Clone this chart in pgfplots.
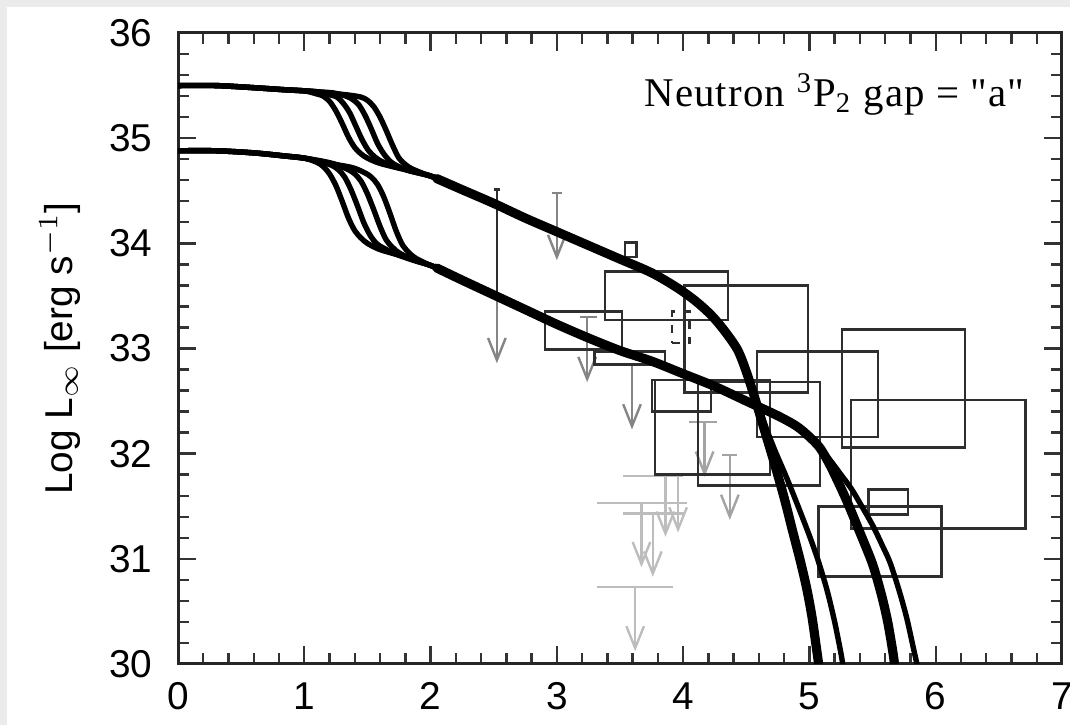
\documentclass[border=0pt]{standalone}
\usepackage{pgfplots}
\pgfplotsset{compat=1.18}
\usetikzlibrary{arrows.meta}
\usepackage{fontspec}
\setmainfont{Liberation Sans}
\newfontfamily\annfont{Liberation Serif}[LetterSpace=3]

\definecolor{framegray}{HTML}{EBEBEB}
\definecolor{boxline}{HTML}{2E2E2E}
\definecolor{limdark}{HTML}{858585}
\definecolor{limmid}{HTML}{A3A3A3}
\definecolor{limlight}{HTML}{BDBDBD}

% observational error box: xmin, xmax, ymin, ymax
\newcommand{\databox}[4]{\addplot[boxline, line width=0.65pt, line cap=rect] coordinates {(#1,#3) (#2,#3) (#2,#4) (#1,#4) (#1,#3)};}
% upper limit arrow: colour, x, from y, to y
\newcommand{\limit}[4]{\addplot[#1, line width=0.6pt, -{Straight Barb[length=5.5pt,width=4.4pt]}] coordinates {(#2,#3) (#2,#4)};}
% horizontal bar: colour, xmin, xmax, y
\newcommand{\hseg}[4]{\addplot[#1, line width=0.6pt] coordinates {(#2,#4) (#3,#4)};}

\begin{document}
\begin{tikzpicture}
\useasboundingbox (0,0) rectangle (267.5pt,181.25pt);
\fill[framegray] (0,0) rectangle (267.5pt,181.25pt);
\fill[white] (1.75pt,0) rectangle (267.5pt,179.5pt);
\begin{axis}[
  at={(44.5pt,15.25pt)}, anchor=south west,
  width=221pt, height=157.75pt, scale only axis,
  xmin=0, xmax=7, ymin=30, ymax=36,
  xtick={0,1,2,3,4,5,6,7}, ytick={30,31,32,33,34,35,36},
  minor x tick num=4, minor y tick num=4,
  tick align=inside,
  major tick length=4.5pt, minor tick length=2.8pt,
  every tick/.style={line width=0.6pt, black!80},
  axis line style={line width=0.75pt, black!85},
  /pgf/number format/assume math mode=true,
  ticklabel style={font=\fontsize{9.7}{11}\selectfont},
  xticklabel style={anchor=north, inner sep=0pt, yshift=-4.5pt},
  yticklabel style={anchor=east, inner sep=0pt, xshift=-6.25pt},
  ylabel={Log L\textsubscript{$\infty$} [erg s\textsuperscript{$-1$}]},
  ylabel style={at={(axis description cs:0,0.5)}, anchor=base, yshift=26.5pt, font=\fontsize{9.7}{11}\selectfont},
  curve/.style={black, line width=1.35pt, smooth, line cap=round, line join=round},
  band/.style={black, line width=2.3pt, smooth, line cap=round, line join=round},
]

% ---- upper limits (light grey cluster) ----
\hseg{limlight}{3.52}{4.00}{31.79}
\hseg{limlight}{3.32}{4.03}{31.53}
\hseg{limlight}{3.52}{4.01}{31.43}
\hseg{limlight}{3.32}{3.92}{30.73}
\limit{limlight}{3.86}{31.79}{31.21}
\limit{limlight}{3.96}{31.79}{31.25}
\limit{limlight}{3.67}{31.53}{30.92}
\limit{limlight}{3.76}{31.43}{30.83}
\limit{limlight}{3.62}{30.73}{30.12}

% ---- upper limits (mid grey) ----
\hseg{limmid}{4.05}{4.27}{32.30}
\limit{limmid}{4.17}{32.30}{31.78}
\hseg{limmid}{4.31}{4.43}{31.99}
\limit{limmid}{4.37}{31.99}{31.37}

% ---- upper limits (darker grey) ----
\hseg{limdark}{2.96}{3.04}{34.48}
\limit{limdark}{3.00}{34.48}{33.84}
\hseg{limdark}{3.18}{3.32}{33.30}
\limit{limdark}{3.24}{33.30}{32.68}
\limit{limdark}{3.595}{32.84}{32.23}
\limit{limdark}{2.525}{33.48}{32.86}
\addplot[boxline, line width=0.65pt] coordinates {(2.525,34.51) (2.525,33.48)};
\hseg{boxline}{2.50}{2.55}{34.51}

% ---- detections with error boxes ----
\databox{3.38}{4.355}{33.27}{33.73}
\databox{3.54}{3.63}{33.87}{34.01}
\databox{4.01}{4.99}{32.58}{33.60}
\databox{2.906}{3.515}{32.99}{33.35}
\databox{3.30}{3.856}{32.85}{32.97}
\databox{3.753}{4.22}{32.40}{32.70}
\databox{3.777}{4.687}{31.80}{32.70}
\databox{4.117}{5.083}{31.70}{32.68}
\databox{4.584}{5.542}{32.16}{32.97}
\databox{5.257}{6.231}{32.06}{33.18}
\databox{5.33}{6.71}{31.29}{32.51}
\databox{5.466}{5.782}{31.42}{31.66}
\databox{5.07}{6.047}{30.83}{31.50}
\addplot[boxline, line width=0.6pt, dash pattern=on 2pt off 2pt] coordinates {(3.91,33.05) (4.05,33.05) (4.05,33.35) (3.91,33.35) (3.91,33.05)};

% ---- cooling curves, higher-luminosity family ----
\addplot[curve] coordinates {(0,35.50) (0.3,35.50) (0.6,35.48) (0.85,35.46) (1.00,35.45) (1.10,35.42) (1.15,35.40) (1.20,35.35) (1.25,35.26) (1.30,35.14) (1.35,35.01) (1.40,34.91) (1.45,34.85) (1.50,34.81) (1.60,34.76) (1.80,34.70) (2.00,34.64) (2.10,34.59)};
\addplot[curve] coordinates {(0,35.50) (0.3,35.50) (0.6,35.48) (0.85,35.46) (1.00,35.45) (1.11,35.44) (1.21,35.41) (1.26,35.39) (1.31,35.33) (1.36,35.24) (1.41,35.11) (1.46,34.98) (1.51,34.88) (1.56,34.82) (1.61,34.78) (1.71,34.73) (1.85,34.69) (2.00,34.64) (2.10,34.59)};
\addplot[curve] coordinates {(0,35.50) (0.3,35.50) (0.6,35.48) (0.85,35.46) (1.00,35.45) (1.12,35.44) (1.23,35.43) (1.33,35.40) (1.38,35.37) (1.43,35.32) (1.48,35.22) (1.53,35.09) (1.58,34.95) (1.63,34.85) (1.68,34.78) (1.73,34.74) (1.83,34.69) (2.00,34.64) (2.10,34.59)};
\addplot[curve] coordinates {(0,35.50) (0.3,35.50) (0.6,35.48) (0.85,35.46) (1.00,35.45) (1.15,35.435) (1.35,35.41) (1.45,35.39) (1.50,35.36) (1.55,35.30) (1.60,35.20) (1.65,35.07) (1.70,34.93) (1.75,34.81) (1.80,34.75) (1.85,34.71) (1.95,34.66) (2.00,34.64) (2.10,34.59)};
\addplot[band] coordinates {(2.05,34.615) (2.25,34.51) (2.50,34.38) (2.75,34.24) (3.00,34.11) (3.25,33.98) (3.50,33.85) (3.75,33.72) (3.95,33.58) (4.10,33.45) (4.22,33.32) (4.32,33.18) (4.43,32.99) (4.50,32.78) (4.57,32.52) (4.64,32.24) (4.72,31.92) (4.80,31.58) (4.87,31.25) (4.93,30.97) (4.98,30.71) (5.02,30.45) (5.05,30.20) (5.08,29.94) (5.10,29.78)};
\addplot[curve] coordinates {(4.50,32.78) (4.57,32.54) (4.64,32.30) (4.72,32.05) (4.82,31.77) (4.91,31.50) (5.00,31.22) (5.07,30.98) (5.14,30.70) (5.20,30.40) (5.25,30.10) (5.27,29.95) (5.30,29.75)};

% ---- cooling curves, lower-luminosity family ----
\addplot[curve] coordinates {(0,34.88) (0.3,34.88) (0.6,34.86) (0.85,34.83) (1.00,34.81) (1.10,34.77) (1.15,34.73) (1.20,34.66) (1.25,34.55) (1.30,34.40) (1.35,34.24) (1.40,34.12) (1.45,34.05) (1.50,34.00) (1.60,33.94) (1.80,33.87) (2.00,33.79) (2.10,33.74)};
\addplot[curve] coordinates {(0,34.88) (0.3,34.88) (0.6,34.86) (0.85,34.83) (1.00,34.81) (1.12,34.78) (1.22,34.74) (1.27,34.70) (1.32,34.63) (1.37,34.51) (1.42,34.36) (1.47,34.20) (1.52,34.08) (1.57,34.00) (1.62,33.96) (1.72,33.90) (1.86,33.84) (2.00,33.79) (2.10,33.74)};
\addplot[curve] coordinates {(0,34.88) (0.3,34.88) (0.6,34.86) (0.85,34.83) (1.00,34.81) (1.15,34.78) (1.25,34.75) (1.35,34.70) (1.40,34.66) (1.45,34.59) (1.50,34.47) (1.55,34.32) (1.60,34.16) (1.65,34.03) (1.70,33.96) (1.75,33.91) (1.85,33.85) (2.00,33.79) (2.10,33.74)};
\addplot[curve] coordinates {(0,34.88) (0.3,34.88) (0.6,34.86) (0.85,34.83) (1.00,34.81) (1.20,34.76) (1.38,34.72) (1.48,34.67) (1.53,34.63) (1.58,34.56) (1.63,34.44) (1.68,34.28) (1.73,34.11) (1.78,33.98) (1.83,33.91) (1.88,33.86) (1.98,33.80) (2.10,33.74)};
\addplot[band] coordinates {(2.05,33.765) (2.25,33.65) (2.50,33.51) (2.75,33.37) (3.00,33.23) (3.25,33.10) (3.50,32.98) (3.75,32.88) (4.00,32.76) (4.25,32.64) (4.50,32.50) (4.75,32.36) (4.90,32.26) (5.00,32.16) (5.08,32.06) (5.15,31.92) (5.22,31.75) (5.30,31.54) (5.40,31.25) (5.50,30.95) (5.57,30.66) (5.62,30.40) (5.66,30.12) (5.68,29.95) (5.71,29.75)};
\addplot[curve] coordinates {(4.95,32.21) (5.05,32.10) (5.15,31.96) (5.25,31.80) (5.33,31.67) (5.40,31.53) (5.50,31.32) (5.58,31.12) (5.64,30.96) (5.71,30.70) (5.77,30.44) (5.82,30.17) (5.86,29.95) (5.89,29.75)};

\node[anchor=base east, inner sep=0pt, font=\annfont\fontsize{10.2}{12}\selectfont] at (axis cs:6.71,35.30) {Neutron \textsuperscript{3}P\textsubscript{2} gap = "a"};
\end{axis}
\end{tikzpicture}
\end{document}
